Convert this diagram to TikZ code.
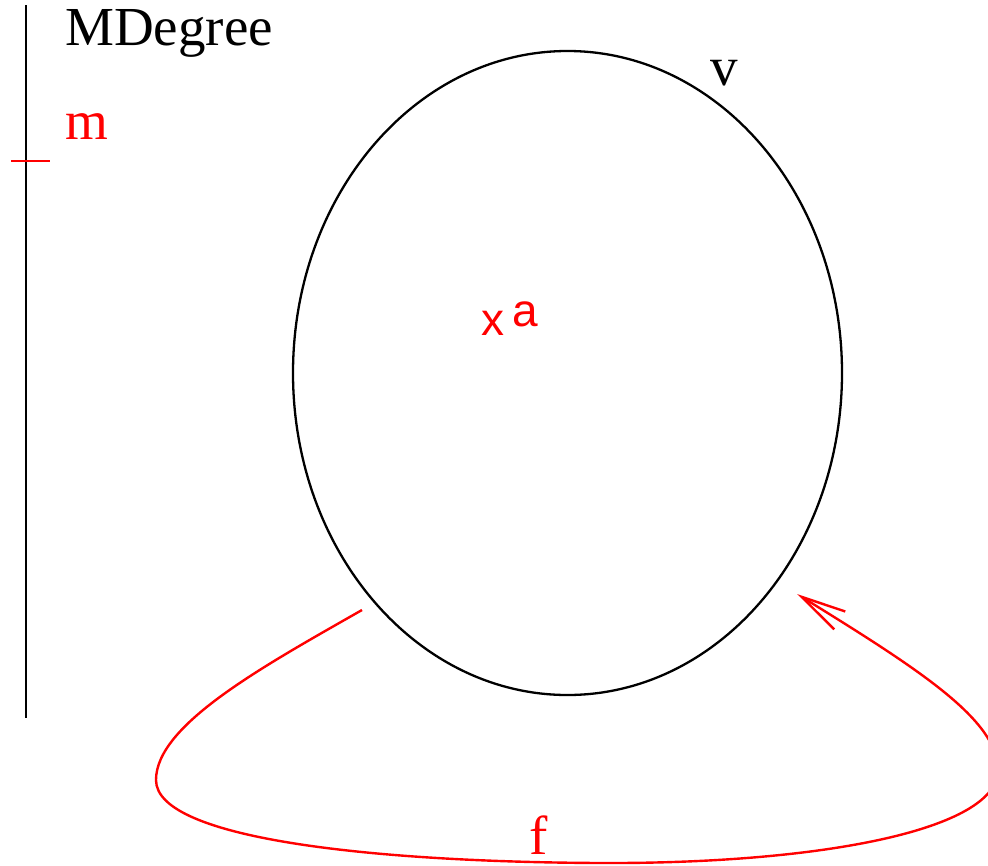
\documentclass[tikz,border=0pt]{standalone}
\usepackage{fontspec}
\setmainfont{Liberation Serif}
\newfontfamily\sansf{Liberation Sans}
\usetikzlibrary{arrows.meta,shapes.geometric}
\tikzset{
  serifl/.style={inner sep=0pt, anchor=base west, font=\fontsize{55}{66}\selectfont},
  sansl/.style={inner sep=0pt, anchor=base west, font=\sansf\fontsize{46}{55}\selectfont, text=red},
  blk/.style={line width=2.3pt, black},
  axisl/.style={line width=2.8pt, black},
  redl/.style={line width=2.4pt, red},
}
\begin{document}
\begin{tikzpicture}[x=1pt,y=-1pt]
\useasboundingbox (0,0) rectangle (988,865);
% axis
\coordinate (axtop) at (26,5);
\coordinate (axbot) at (26,718);
\draw[axisl] (axtop) -- (axbot);
\coordinate (tickl) at (11,161);
\coordinate (tickr) at (50,161);
\draw[redl, line width=2.1pt] (tickl) -- (tickr);
\node[serifl] (md) at (65,45) {MDegree};
\node[serifl, text=red] (m) at (65,139) {m};
% ellipse
\node[draw, blk, ellipse, minimum width=549pt, minimum height=644pt, inner sep=0pt] (V) at (567.5,373) {};
\node[serifl] (v) at (710,85) {v};
\node[sansl] (x) at (481,335) {x};
\node[sansl] (a) at (512,326) {a};
% loop f
\coordinate (fs) at (362,610);
\coordinate (fe) at (797,594);
\draw[redl, -{Straight Barb[length=45pt, width=21pt, line width=2.4pt]}]
  (fs) .. controls (262,667) and (156,725) .. (156,780)
       .. controls (156,840) and (380,862) .. (600,863)
       .. controls (820,864) and (998,830) .. (998,770)
       .. controls (998,720) and (920,670) .. (fe);
\node[serifl, text=red] (f) at (529,854) {f};
\end{tikzpicture}
\end{document}
